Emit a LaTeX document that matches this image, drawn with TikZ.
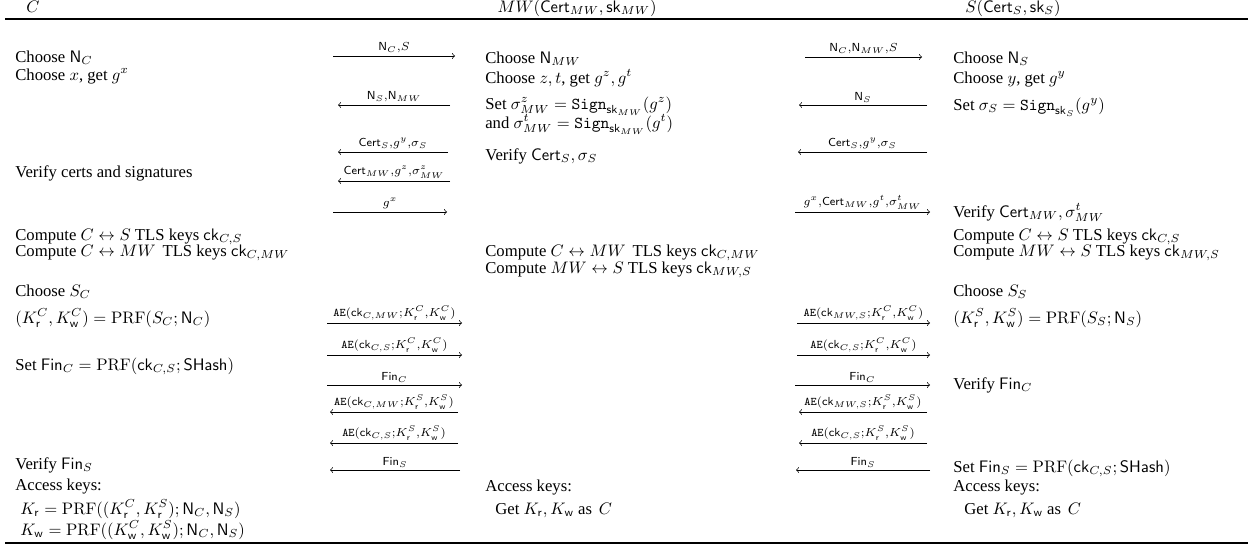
\documentclass[tikz,border=0pt]{standalone}
\usepackage{amsmath,amssymb}
\usepackage[no-math]{fontspec}
\setmainfont{Liberation Serif}
\usepackage{tikz}
\usetikzlibrary{positioning}

\newcommand{\Nn}{\mathsf{N}}
\newcommand{\Cert}{\mathsf{Cert}}
\newcommand{\skey}{\mathsf{sk}}
\newcommand{\ckey}{\mathsf{ck}}
\newcommand{\Fin}{\mathsf{Fin}}
\newcommand{\SHash}{\mathsf{SHash}}
\newcommand{\Sign}{\mathtt{Sign}}
\newcommand{\AEnc}{\mathtt{AE}}
\newcommand{\PRF}{\mathrm{PRF}}
\newcommand{\krd}{\mathsf{r}}
\newcommand{\kwr}{\mathsf{w}}

\begin{document}
\begin{tikzpicture}[
    x=0.6pt, y=-0.6pt,
    txt/.style={anchor=base west, inner sep=0pt},
    head/.style={anchor=base, inner sep=0pt},
    msg/.style={->},
    lbl/.style={above, inner sep=1.5pt,
        execute at begin node={$\scriptstyle}, execute at end node={$}},
    rule/.style={line width=0.8pt}
]
    \useasboundingbox (0,0) rectangle (1248,546);

    % Parties
    \node[head] (hc) at (33,12) {$C$};
    \node[head] (hmw) at (577,12) {$MW(\Cert_{MW},\skey_{MW})$};
    \node[head] (hs) at (1013,12) {$S(\Cert_S,\skey_S)$};

    % Rules
    \coordinate (tl) at (5,19);
    \coordinate (tr) at (1248,19);
    \coordinate (bl) at (5,543);
    \coordinate (br) at (1248,543);
    \draw[rule] (tl) -- (tr);
    \draw[rule] (bl) -- (br);

    % Client
    \node[txt] (c1) at (15,62) {Choose $\Nn_C$};
    \node[txt] (c2) at (15,80) {Choose $x$, get $g^x$};
    \node[txt] (c3) at (15,177) {Verify certs and signatures};
    \node[txt] (c4) at (15,240) {Compute $C \leftrightarrow S$ TLS keys $\ckey_{C,S}$};
    \node[txt] (c5) at (15,256) {Compute $C \leftrightarrow MW$\, TLS keys $\ckey_{C,MW}$};
    \node[txt] (c6) at (15,296) {Choose $S_C$};
    \node[txt] (c7) at (15,323) {$(K^C_\krd,K^C_\kwr) = \PRF(S_C;\Nn_C)$};
    \node[txt] (c8) at (15,370) {Set $\Fin_C = \PRF(\ckey_{C,S};\SHash)$};
    \node[txt] (c9) at (15,469) {Verify $\Fin_S$};
    \node[txt] (c10) at (15,490) {Access keys:};
    \node[txt] (c11) at (20,514) {$K_\krd = \PRF((K^C_\krd,K^S_\krd);\Nn_C,\Nn_S)$};
    \node[txt] (c12) at (20,535) {$K_\kwr = \PRF((K^C_\kwr,K^S_\kwr);\Nn_C,\Nn_S)$};

    % Middleware
    \node[txt] (m1) at (485,63) {Choose $\Nn_{MW}$};
    \node[txt] (m2) at (485,83) {Choose $z,t$, get $g^z,g^t$};
    \node[txt] (m3) at (485,109) {Set $\sigma^z_{MW} = \Sign_{\skey_{MW}}(g^z)$};
    \node[txt] (m4) at (485,128) {and $\sigma^t_{MW} = \Sign_{\skey_{MW}}(g^t)$};
    \node[txt] (m5) at (485,160) {Verify $\Cert_S,\sigma_S$};
    \node[txt] (m6) at (485,256) {Compute $C \leftrightarrow MW$\, TLS keys $\ckey_{C,MW}$};
    \node[txt] (m7) at (485,273) {Compute $MW \leftrightarrow S$ TLS keys $\ckey_{MW,S}$};
    \node[txt] (m8) at (485,491) {Access keys:};
    \node[txt] (m9) at (495,514) {Get $K_\krd,K_\kwr$ as\, $C$};

    % Server
    \node[txt] (s1) at (953,63) {Choose $\Nn_S$};
    \node[txt] (s2) at (953,83) {Choose $y$, get $g^y$};
    \node[txt] (s3) at (953,110) {Set $\sigma_S = \Sign_{\skey_S}(g^y)$};
    \node[txt] (s4) at (953,217) {Verify $\Cert_{MW},\sigma^t_{MW}$};
    \node[txt] (s5) at (953,240) {Compute $C \leftrightarrow S$ TLS keys $\ckey_{C,S}$};
    \node[txt] (s6) at (953,256) {Compute $MW \leftrightarrow S$ TLS keys $\ckey_{MW,S}$};
    \node[txt] (s7) at (953,296) {Choose $S_S$};
    \node[txt] (s8) at (953,323) {$(K^S_\krd,K^S_\kwr) = \PRF(S_S;\Nn_S)$};
    \node[txt] (s9) at (953,389) {Verify $\Fin_C$};
    \node[txt] (s10) at (953,472) {Set $\Fin_S = \PRF(\ckey_{C,S};\SHash)$};
    \node[txt] (s11) at (953,491) {Access keys:};
    \node[txt] (s12) at (964,514) {Get $K_\krd,K_\kwr$ as\, $C$};

    % Arrow ends, C <-> MW
    \foreach \n/\y/\xa/\xb in {1/56/333/455, 2/105/338/450, 3/152/338/448,
        4/181/338/450, 5/212/333/447, 6/323/327/462, 7/355/327/462,
        8/385/327/462, 9/412/330/458, 10/443/330/458, 11/470/330/460}{
        \coordinate (al\n) at (\xa,\y);
        \coordinate (ar\n) at (\xb,\y);
    }
    % Arrow ends, MW <-> S
    \foreach \n/\y/\xa/\xb in {1/57/805/922, 2/105/799/927, 3/152/798/927,
        4/212/795/930, 5/323/797/930, 6/355/797/930, 7/385/795/930,
        8/412/799/927, 9/443/799/927, 10/470/796/930}{
        \coordinate (bl\n) at (\xa,\y);
        \coordinate (br\n) at (\xb,\y);
    }

    % Handshake
    \draw[msg] (al1) -- node[lbl] {\Nn_C,S} (ar1);
    \draw[msg] (ar2) -- node[lbl] {\Nn_S,\Nn_{MW}} (al2);
    \draw[msg] (ar3) -- node[lbl] {\Cert_S,g^y,\sigma_S} (al3);
    \draw[msg] (ar4) -- node[lbl] {\Cert_{MW},g^z,\sigma^z_{MW}} (al4);
    \draw[msg] (al5) -- node[lbl] {g^x} (ar5);

    \draw[msg] (bl1) -- node[lbl] {\Nn_C,\Nn_{MW},S} (br1);
    \draw[msg] (br2) -- node[lbl] {\Nn_S} (bl2);
    \draw[msg] (br3) -- node[lbl] {\Cert_S,g^y,\sigma_S} (bl3);
    \draw[msg] (bl4) -- node[lbl] {g^x,\Cert_{MW},g^t,\sigma^t_{MW}} (br4);

    % Key shares and finish
    \draw[msg] (al6) -- node[lbl] {\AEnc(\ckey_{C,MW};K^C_\krd,K^C_\kwr)} (ar6);
    \draw[msg] (al7) -- node[lbl] {\AEnc(\ckey_{C,S};K^C_\krd,K^C_\kwr)} (ar7);
    \draw[msg] (al8) -- node[lbl] {\Fin_C} (ar8);
    \draw[msg] (ar9) -- node[lbl] {\AEnc(\ckey_{C,MW};K^S_\krd,K^S_\kwr)} (al9);
    \draw[msg] (ar10) -- node[lbl] {\AEnc(\ckey_{C,S};K^S_\krd,K^S_\kwr)} (al10);
    \draw[msg] (ar11) -- node[lbl] {\Fin_S} (al11);

    \draw[msg] (bl5) -- node[lbl] {\AEnc(\ckey_{MW,S};K^C_\krd,K^C_\kwr)} (br5);
    \draw[msg] (bl6) -- node[lbl] {\AEnc(\ckey_{C,S};K^C_\krd,K^C_\kwr)} (br6);
    \draw[msg] (bl7) -- node[lbl] {\Fin_C} (br7);
    \draw[msg] (br8) -- node[lbl] {\AEnc(\ckey_{MW,S};K^S_\krd,K^S_\kwr)} (bl8);
    \draw[msg] (br9) -- node[lbl] {\AEnc(\ckey_{C,S};K^S_\krd,K^S_\kwr)} (bl9);
    \draw[msg] (br10) -- node[lbl] {\Fin_S} (bl10);
\end{tikzpicture}
\end{document}
